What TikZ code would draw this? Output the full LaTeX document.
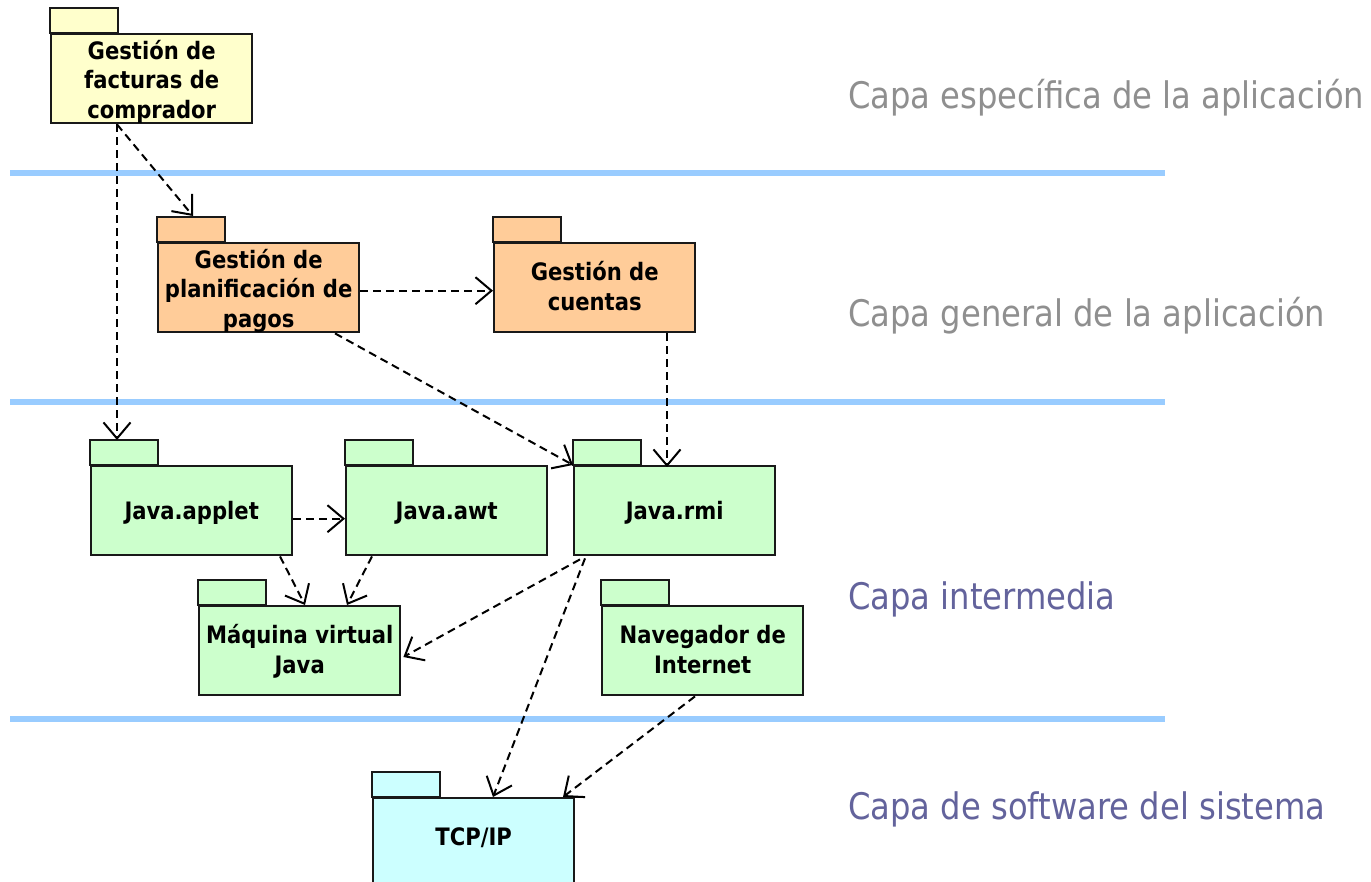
\documentclass[tikz,border=0pt]{standalone}
\usepackage{fontspec}
\setmainfont{DejaVu Sans}[FakeStretch=0.88]
\usetikzlibrary{arrows.meta,calc}
\definecolor{layerline}{HTML}{99CCFF}
\definecolor{graytxt}{HTML}{8F8F8F}
\definecolor{bluetxt}{HTML}{63639C}
\definecolor{yel}{HTML}{FFFFCC}
\definecolor{ora}{HTML}{FFCC99}
\definecolor{grn}{HTML}{CCFFCC}
\definecolor{cyn}{HTML}{CCFFFF}
\newcommand\pkgtext[2][-4pt]{\raisebox{#1}[\height][\depth]{\begin{tabular}{@{}c@{}}#2\end{tabular}}}
\tikzset{
 pkgbody/.style={draw=black!90, line width=2.4pt, anchor=north west, minimum width=201pt, minimum height=89pt, inner sep=0pt, align=center, font=\fontsize{24}{29.5}\selectfont\bfseries},
 pkgtab/.style={draw=black!90, line width=2.4pt},
 dep/.style={line width=2pt, dash pattern=on 8pt off 5pt, -{Straight Barb[length=16pt,width=27pt,line width=2pt]}},
 layer/.style={layerline, line width=5.5pt},
 laylbl/.style={anchor=west, inner sep=0pt, font=\fontsize{36.6}{40}\selectfont}
}
\begin{document}
\begin{tikzpicture}[x=1pt,y=-1pt]
\useasboundingbox (0,0) rectangle (1371,882);
\clip (0,0) rectangle (1371,882);
\fill[white] (0,0) rectangle (1371,882);
% layer lines
\coordinate (l1a) at (10,173); \coordinate (l1b) at (1165,173);
\coordinate (l2a) at (10,402); \coordinate (l2b) at (1165,402);
\coordinate (l3a) at (10,719); \coordinate (l3b) at (1165,719);
\draw[layer] (l1a) -- (l1b);
\draw[layer] (l2a) -- (l2b);
\draw[layer] (l3a) -- (l3b);
% layer labels
\node[laylbl, text=graytxt] (t1) at (848,98) {Capa específica de la aplicación};
\node[laylbl, text=graytxt] (t2) at (848,316) {Capa general de la aplicación};
\node[laylbl, text=bluetxt] (t3) at (848,599) {Capa intermedia};
\node[laylbl, text=bluetxt] (t4) at (848,809) {Capa de software del sistema};
% packages
\node[pkgbody, fill=yel] (fac) at (50,33) {\pkgtext{Gestión de\\facturas de\\comprador}};
\node[pkgbody, fill=ora] (plan) at (157,242) {\pkgtext{Gestión de\\planificación de\\pagos}};
\node[pkgbody, fill=ora] (cue) at (493,242) {\pkgtext[-2pt]{Gestión de\\cuentas}};
\node[pkgbody, fill=grn] (applet) at (90,465) {\pkgtext[-3pt]{Java.applet}};
\node[pkgbody, fill=grn] (awt) at (345,465) {\pkgtext[-3pt]{Java.awt}};
\node[pkgbody, fill=grn] (rmi) at (573,465) {\pkgtext[-3pt]{Java.rmi}};
\node[pkgbody, fill=grn] (maq) at (198,605) {\pkgtext[-2pt]{Máquina virtual\\Java}};
\node[pkgbody, fill=grn] (nav) at (601,605) {\pkgtext[-2pt]{Navegador de\\Internet}};
\node[pkgbody, fill=cyn] (tcp) at (372,797) {\pkgtext[3pt]{TCP/IP}};
\foreach \n/\c in {fac/yel,plan/ora,cue/ora,applet/grn,awt/grn,rmi/grn,maq/grn,nav/grn,tcp/cyn}
  \draw[pkgtab, fill=\c] (\n.north west) rectangle ++(68,-25);
\draw[pkgtab] (tcp.north east) -- ++(9,0);
% dependencies
\draw[dep] ($(fac.south west)+(67,0)$) -- ($(plan.north west)+(36,-26)$);
\draw[dep] ($(fac.south west)+(67,0)$) -- ($(applet.north west)+(27,-25)$);
\draw[dep] ($(plan.east)+(0,3)$) -- ($(cue.west)+(0,3)$);
\draw[dep] ($(plan.south west)+(178,0)$) -- (rmi.north west);
\draw[dep] ($(cue.south west)+(174,0)$) -- ($(rmi.north west)+(94,2)$);
\draw[dep] ($(applet.east)+(0,8)$) -- ($(awt.west)+(0,8)$);
\draw[dep] ($(applet.south west)+(190,0)$) -- ($(maq.north west)+(107,0)$);
\draw[dep] ($(awt.south west)+(27,0)$) -- ($(maq.north west)+(149,0)$);
\draw[dep] ($(rmi.south west)+(7,3)$) -- ($(maq.north east)+(2,52)$);
\draw[dep] ($(rmi.south west)+(12,2)$) -- ($(tcp.north west)+(121,0)$);
\draw[dep] ($(nav.south west)+(94,0)$) -- ($(tcp.north west)+(191,0)$);
\end{tikzpicture}
\end{document}
